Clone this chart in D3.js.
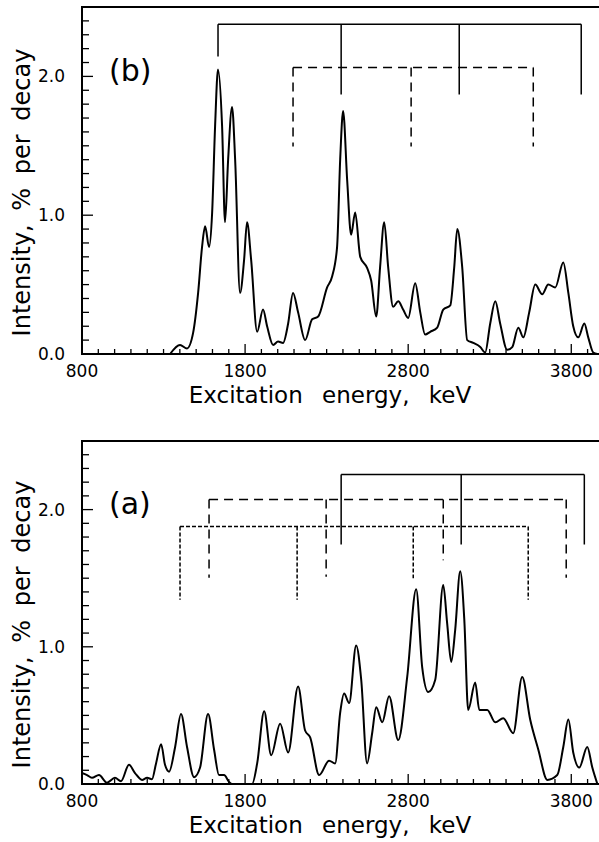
<!DOCTYPE html>
<html lang="en">
<head>
<meta charset="utf-8">
<title>Excitation energy spectra</title>
<script src="https://d3js.org/d3.v7.min.js"></script>
<style>
  body { margin: 0; background: #fff; }
  text { font-family: "DejaVu Sans", sans-serif; fill: #000; }
</style>
</head>
<body>
<div id="chart"></div>
<script>
// spectrum (b) - upper panel
var energyB = [1340, 1401, 1444, 1481, 1512, 1536, 1555, 1579, 1598, 1616, 1634, 1659, 1677, 1696, 1720, 1739, 1769, 1794, 1812, 1837, 1874, 1910, 1935, 1972, 2002, 2033, 2064, 2094, 2125, 2168, 2211, 2248, 2303, 2334, 2364, 2383, 2401, 2426, 2450, 2475, 2506, 2548, 2573, 2604, 2628, 2653, 2677, 2708, 2739, 2769, 2800, 2843, 2874, 2904, 2935, 2978, 3015, 3058, 3082, 3101, 3131, 3162, 3199, 3242, 3272, 3303, 3334, 3364, 3407, 3438, 3475, 3506, 3542, 3579, 3622, 3659, 3702, 3751, 3782, 3812, 3843, 3880, 3904, 3935, 3960];
var intensityB = [0, 0.065, 0.04, 0.15, 0.44, 0.77, 0.92, 0.77, 1.02, 1.64, 2.05, 1.64, 0.95, 1.40, 1.78, 1.40, 0.44, 0.68, 0.95, 0.68, 0.16, 0.32, 0.20, 0.065, 0.09, 0.08, 0.22, 0.44, 0.30, 0.10, 0.25, 0.27, 0.48, 0.56, 0.77, 1.40, 1.75, 1.25, 0.86, 1.02, 0.70, 0.62, 0.53, 0.27, 0.63, 0.95, 0.63, 0.34, 0.38, 0.32, 0.26, 0.51, 0.30, 0.14, 0.16, 0.19, 0.32, 0.35, 0.62, 0.90, 0.63, 0.10, 0.08, 0.05, 0.01, 0.22, 0.38, 0.22, 0.03, 0.05, 0.19, 0.12, 0.30, 0.50, 0.43, 0.50, 0.48, 0.66, 0.44, 0.20, 0.12, 0.22, 0.12, 0.01, 0];

// spectrum (a) - lower panel
var energyA = [800, 831, 861, 904, 953, 1002, 1039, 1088, 1125, 1168, 1199, 1229, 1254, 1285, 1309, 1334, 1371, 1407, 1444, 1487, 1524, 1573, 1610, 1640, 1671, 1702, 1720, 1843, 1874, 1917, 1960, 2015, 2064, 2125, 2168, 2199, 2254, 2315, 2352, 2383, 2407, 2438, 2481, 2512, 2548, 2579, 2604, 2641, 2683, 2739, 2794, 2849, 2886, 2923, 2966, 3015, 3039, 3064, 3088, 3119, 3144, 3168, 3211, 3236, 3285, 3334, 3383, 3444, 3499, 3548, 3598, 3653, 3714, 3751, 3782, 3812, 3849, 3898, 3929, 3960];
var intensityA = [0.08, 0.065, 0.045, 0.065, 0.01, 0.045, 0.02, 0.14, 0.08, 0.03, 0.045, 0.035, 0.15, 0.29, 0.14, 0.09, 0.27, 0.51, 0.27, 0.05, 0.12, 0.51, 0.25, 0.065, 0.065, 0.015, 0, 0, 0.15, 0.53, 0.21, 0.44, 0.23, 0.71, 0.39, 0.34, 0.065, 0.17, 0.15, 0.52, 0.66, 0.59, 1.01, 0.76, 0.15, 0.37, 0.56, 0.45, 0.64, 0.32, 0.78, 1.42, 0.85, 0.67, 0.76, 1.45, 1.17, 0.89, 1.12, 1.55, 1.20, 0.54, 0.74, 0.54, 0.54, 0.45, 0.48, 0.37, 0.78, 0.47, 0.25, 0.03, 0.065, 0.27, 0.47, 0.23, 0.12, 0.27, 0.12, 0];

// level-scheme brackets: horizontal level, leg energies, leg bottom ends
var bSolidLevel = 2.375, bSolidLegs = [1634, 2389, 3113, 3861], bSolidEnds = [2.144, 1.87, 1.87, 1.87];
var bDashLevel = 2.065, bDashLegs = [2094, 2818, 3567], bDashEnds = [1.495, 1.495, 1.495];
var aSolidLevel = 2.255, aSolidLegs = [2389, 3125, 3880], aSolidEnds = [1.745, 1.745, 1.745];
var aDashLevel = 2.073, aDashLegs = [1579, 2297, 3015, 3769], aDashEnds = [1.504, 1.511, 1.63, 1.504];
var aDotLevel = 1.876, aDotLegs = [1401, 2119, 2831, 3536], aDotEnds = [1.343, 1.343, 1.50, 1.343];

var xTickLabels = [800, 1800, 2800, 3800];
var yTickLabels = [0, 1, 2];

var svg = d3.select("#chart").append("svg")
    .attr("width", 599)
    .attr("height", 842);

svg.append("rect").attr("width", 599).attr("height", 842).attr("fill", "#fff");

function panel(top, bottom, energy, intensity, label, labelY, brackets) {
    var x = d3.scaleLinear().domain([800, 3970]).range([82, 599]);
    var y = d3.scaleLinear().domain([0, 2.5]).range([bottom, top]);
    var g = svg.append("g");

    // frame: left, bottom, top
    g.append("path")
        .attr("d", "M599," + top + "H82V" + bottom + "H599")
        .attr("fill", "none").attr("stroke", "#000").attr("stroke-width", 2);

    // x ticks (inward)
    var xt = d3.range(800, 3901, 100);
    g.selectAll(".xt").data(xt).enter().append("line")
        .attr("x1", d => x(d)).attr("x2", d => x(d))
        .attr("y1", bottom).attr("y2", d => bottom - (d % 1000 == 800 ? 10 : 5))
        .attr("stroke", "#000").attr("stroke-width", 1.3);
    g.selectAll(".xl").data(xTickLabels).enter().append("text")
        .attr("x", d => x(d)).attr("y", bottom + 23)
        .attr("text-anchor", "middle").attr("font-size", 17)
        .text(d => d);

    // y ticks (inward)
    var yt = d3.range(1, 25).map(d => d / 10);
    g.selectAll(".yt").data(yt).enter().append("line")
        .attr("x1", 82).attr("x2", d => 82 + (Math.abs(d - Math.round(d)) < 0.01 ? 11 : 7))
        .attr("y1", d => y(d)).attr("y2", d => y(d))
        .attr("stroke", "#000").attr("stroke-width", 1.3);
    g.selectAll(".yl").data(yTickLabels).enter().append("text")
        .attr("x", 65).attr("y", d => y(d) + 6)
        .attr("text-anchor", "end").attr("font-size", 17)
        .text(d => d.toFixed(1));

    // axis titles
    g.append("text")
        .attr("x", 330).attr("y", bottom + 49)
        .attr("text-anchor", "middle").attr("font-size", 23)
        .attr("word-spacing", 12)
        .text("Excitation energy, keV");
    g.append("text")
        .attr("transform", "translate(30," + ((top + bottom) / 2 + 12) + ") rotate(-90)")
        .attr("text-anchor", "middle").attr("font-size", 24)
        .attr("word-spacing", 6)
        .text("Intensity, % per decay");

    // panel label
    g.append("text")
        .attr("x", 109).attr("y", labelY)
        .attr("font-size", 30)
        .text(label);

    // brackets
    brackets.forEach(function(b) {
        var d = "M" + x(b.legs[0]) + "," + y(b.level) + "H" + x(b.legs[b.legs.length - 1]);
        b.legs.forEach(function(e, i) {
            d += "M" + x(e) + "," + y(b.level) + "V" + y(b.ends[i]);
        });
        g.append("path").attr("d", d)
            .attr("fill", "none").attr("stroke", "#000").attr("stroke-width", 1.5)
            .attr("stroke-dasharray", b.dash);
    });

    // spectrum
    var line = d3.line()
        .x((d, i) => x(energy[i]))
        .y(d => y(d))
        .curve(d3.curveMonotoneX);
    g.append("path")
        .attr("d", line(intensity))
        .attr("fill", "none").attr("stroke", "#000").attr("stroke-width", 2);
}

panel(7, 354, energyB, intensityB, "(b)", 81, [
    {level: bSolidLevel, legs: bSolidLegs, ends: bSolidEnds, dash: null},
    {level: bDashLevel, legs: bDashLegs, ends: bDashEnds, dash: "9,6"}
]);

panel(441, 784, energyA, intensityA, "(a)", 514, [
    {level: aSolidLevel, legs: aSolidLegs, ends: aSolidEnds, dash: null},
    {level: aDashLevel, legs: aDashLegs, ends: aDashEnds, dash: "9,6"},
    {level: aDotLevel, legs: aDotLegs, ends: aDotEnds, dash: "4,2"}
]);
</script>
</body>
</html>
